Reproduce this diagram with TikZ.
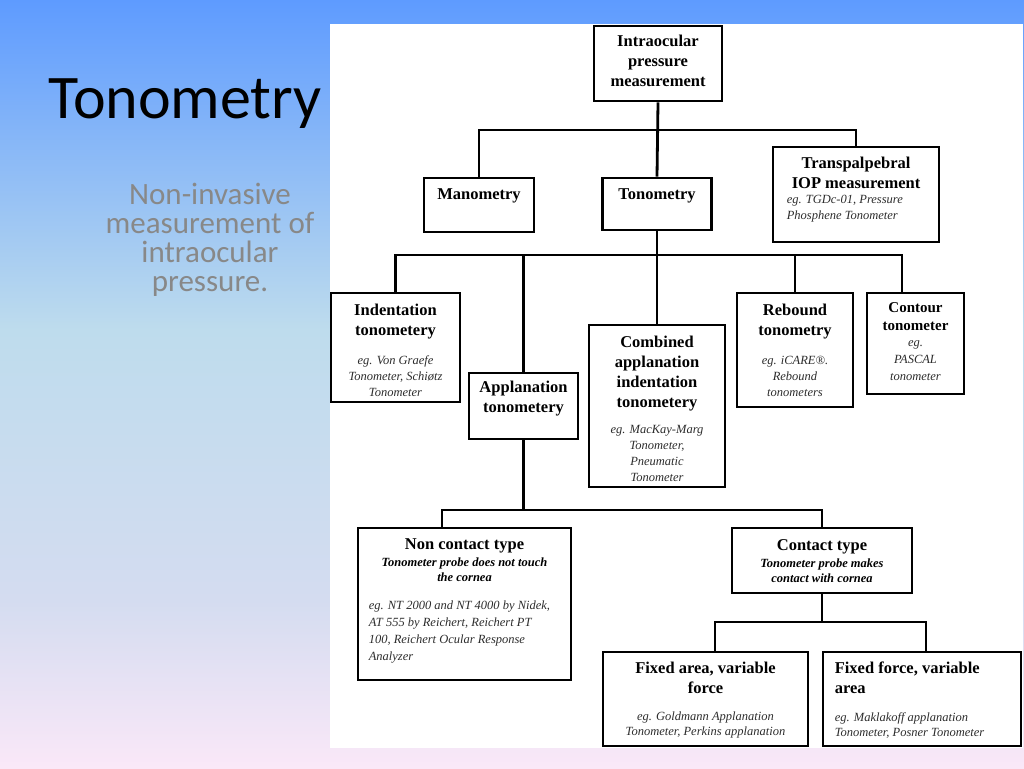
\documentclass[tikz,border=0pt]{standalone}
\usepackage{fontspec}
\setmainfont{Liberation Serif}
\newfontfamily\slidefont{Carlito}
\usetikzlibrary{positioning}

\definecolor{bgtop}{RGB}{94,155,255}
\definecolor{bgmid}{RGB}{190,220,237}
\definecolor{bglav}{RGB}{212,220,240}
\definecolor{bgbot}{RGB}{250,232,248}
\definecolor{leadgrey}{RGB}{136,136,136}
\definecolor{notegrey}{RGB}{45,45,45}

\begin{document}
\begin{tikzpicture}[
  x=1pt, y=-1pt,
  box/.style = {draw, line width=2.8pt, inner sep=0pt},
  ttl/.style = {inner sep=0pt, align=center, font=\fontsize{16.5}{20}\selectfont\bfseries},
  note/.style = {inner sep=0pt, align=center, text=notegrey, font=\fontsize{12.5}{16}\selectfont\itshape},
  sub/.style = {inner sep=0pt, align=center, font=\fontsize{12.5}{15.5}\selectfont\bfseries\itshape},
  link/.style = {line width=2.8pt},
  ]
  \useasboundingbox (0,0) rectangle (1024,768);

  % slide background
  \shade[top color=bgtop, bottom color=bgmid] (0,0) rectangle (1024,330);
  \shade[top color=bgmid, bottom color=bglav] (0,330) rectangle (1024,600);
  \shade[top color=bglav, bottom color=bgbot] (0,600) rectangle (1024,768);
  \fill[white] (330,24) rectangle (1023,748);

  \node[anchor=base, font=\slidefont\fontsize{62}{72}\selectfont] (title) at (185,118) {Tonometry};
  \node[anchor=north, align=center, text=leadgrey, font=\slidefont\fontsize{31}{29}\selectfont] (lead) at (210,180)
    {Non-invasive\\measurement of\\intraocular\\pressure.};

  % boxes
  \node[box, minimum width=128pt, minimum height=75pt] (iop) at (658,63.5) {};
  \node[box, minimum width=110pt, minimum height=54pt] (mano) at (479,205) {};
  \node[box, minimum width=109pt, minimum height=52pt] (tono) at (657,204) {};
  \node[box, minimum width=166pt, minimum height=95pt] (trans) at (856,194.5) {};
  \node[box, minimum width=129pt, minimum height=109pt] (indent) at (395.5,347.5) {};
  \node[box, minimum width=109pt, minimum height=66pt] (appl) at (523.5,406) {};
  \node[box, minimum width=136pt, minimum height=162pt] (comb) at (657,406) {};
  \node[box, minimum width=116pt, minimum height=114pt] (reb) at (795,350) {};
  \node[box, minimum width=97pt, minimum height=101pt] (cont) at (915.5,343.5) {};
  \node[box, minimum width=213pt, minimum height=152pt] (nonc) at (464.5,604) {};
  \node[box, minimum width=180pt, minimum height=65pt] (contact) at (822,560.5) {};
  \node[box, minimum width=205pt, minimum height=94pt] (fixa) at (705.5,699) {};
  \node[box, minimum width=198pt, minimum height=94pt] (fixf) at (922,699) {};

  % connectors
  \coordinate (bus1) at (657,130);
  \coordinate (bus2) at (657,255);
  \coordinate (bus3) at (523.5,510);
  \coordinate (bus4) at (822,622);
  \draw[link] (iop.south) -- (tono.north);
  \draw[link] (mano.north) |- (bus1) -| (trans.north);
  \draw[link] (tono.south) -- (comb.north);
  \draw[link] (indent.north) |- (bus2) -| ([xshift=-13.5pt]cont.north);
  \draw[link] (appl.north) -- (appl.north |- bus2);
  \draw[link] (reb.north) -- (reb.north |- bus2);
  \draw[link] (appl.south) -- (bus3);
  \draw[link] ([xshift=-22.5pt]nonc.north) |- (bus3) -| (contact.north);
  \draw[link] (contact.south) -- (bus4);
  \draw[link] ([xshift=9.5pt]fixa.north) |- (bus4) -| ([xshift=4pt]fixf.north);

  % texts
  \node[ttl, below=10pt of iop.north] (iop-t) {Intraocular\\pressure\\measurement};
  \node[ttl, below=12pt of mano.north] (mano-t) {Manometry};
  \node[ttl, below=12pt of tono.north] (tono-t) {Tonometry};

  \node[ttl, below=11pt of trans.north] (trans-t) {Transpalpebral\\IOP measurement};
  \coordinate (trans-nw) at (trans.west |- trans-t.south);
  \node[note, align=left, below right=6pt and 15pt of trans-nw] (trans-n) {eg. TGDc-01, Pressure\\Phosphene Tonometer};

  \node[ttl, below=12pt of indent.north] (indent-t) {Indentation\\tonometery};
  \node[note, below=16pt of indent-t] (indent-n) {eg. Von Graefe\\Tonometer, Schiøtz\\Tonometer};

  \node[ttl, below=9pt of appl.north] (appl-t) {Applanation\\tonometery};

  \node[ttl, below=12pt of comb.north] (comb-t) {Combined\\applanation\\indentation\\tonometery};
  \node[note, below=14pt of comb-t] (comb-n) {eg. MacKay-Marg\\Tonometer,\\Pneumatic\\Tonometer};

  \node[ttl, below=12pt of reb.north] (reb-t) {Rebound\\tonometry};
  \node[note, below=17pt of reb-t] (reb-n) {eg. iCARE®.\\Rebound\\tonometers};

  \node[ttl, font=\fontsize{15}{18}\selectfont\bfseries, below=11pt of cont.north] (cont-t) {Contour\\tonometer};
  \node[note, font=\fontsize{12.5}{17}\selectfont\itshape, below=9pt of cont-t] (cont-n) {eg.\\PASCAL\\tonometer};

  \node[ttl, below=12pt of nonc.north] (nonc-t) {Non contact type};
  \node[sub, below=4pt of nonc-t] (nonc-s) {Tonometer probe does not touch\\the cornea};
  \coordinate (nonc-nw) at (nonc.west |- nonc-s.south);
  \node[note, align=left, font=\fontsize{12.5}{17}\selectfont\itshape, below right=19pt and 12pt of nonc-nw] (nonc-n)
    {eg. NT 2000 and NT 4000 by Nidek,\\AT 555 by Reichert, Reichert PT\\100, Reichert Ocular Response\\Analyzer};

  \node[ttl, below=13pt of contact.north] (contact-t) {Contact type};
  \node[sub, below=4pt of contact-t] (contact-s) {Tonometer probe makes\\contact with cornea};

  \node[ttl, below=11pt of fixa.north] (fixa-t) {Fixed area, variable\\force};
  \node[note, font=\fontsize{12.5}{15}\selectfont\itshape, below=18pt of fixa-t] (fixa-n) {eg. Goldmann Applanation\\Tonometer, Perkins applanation};

  \node[ttl, align=left, below right=11pt and 13pt of fixf.north west] (fixf-t) {Fixed force, variable\\area};
  \node[note, align=left, font=\fontsize{12.5}{15}\selectfont\itshape, below right=19pt and 0pt of fixf-t.south west] (fixf-n)
    {eg. Maklakoff applanation\\Tonometer, Posner Tonometer};
\end{tikzpicture}
\end{document}
